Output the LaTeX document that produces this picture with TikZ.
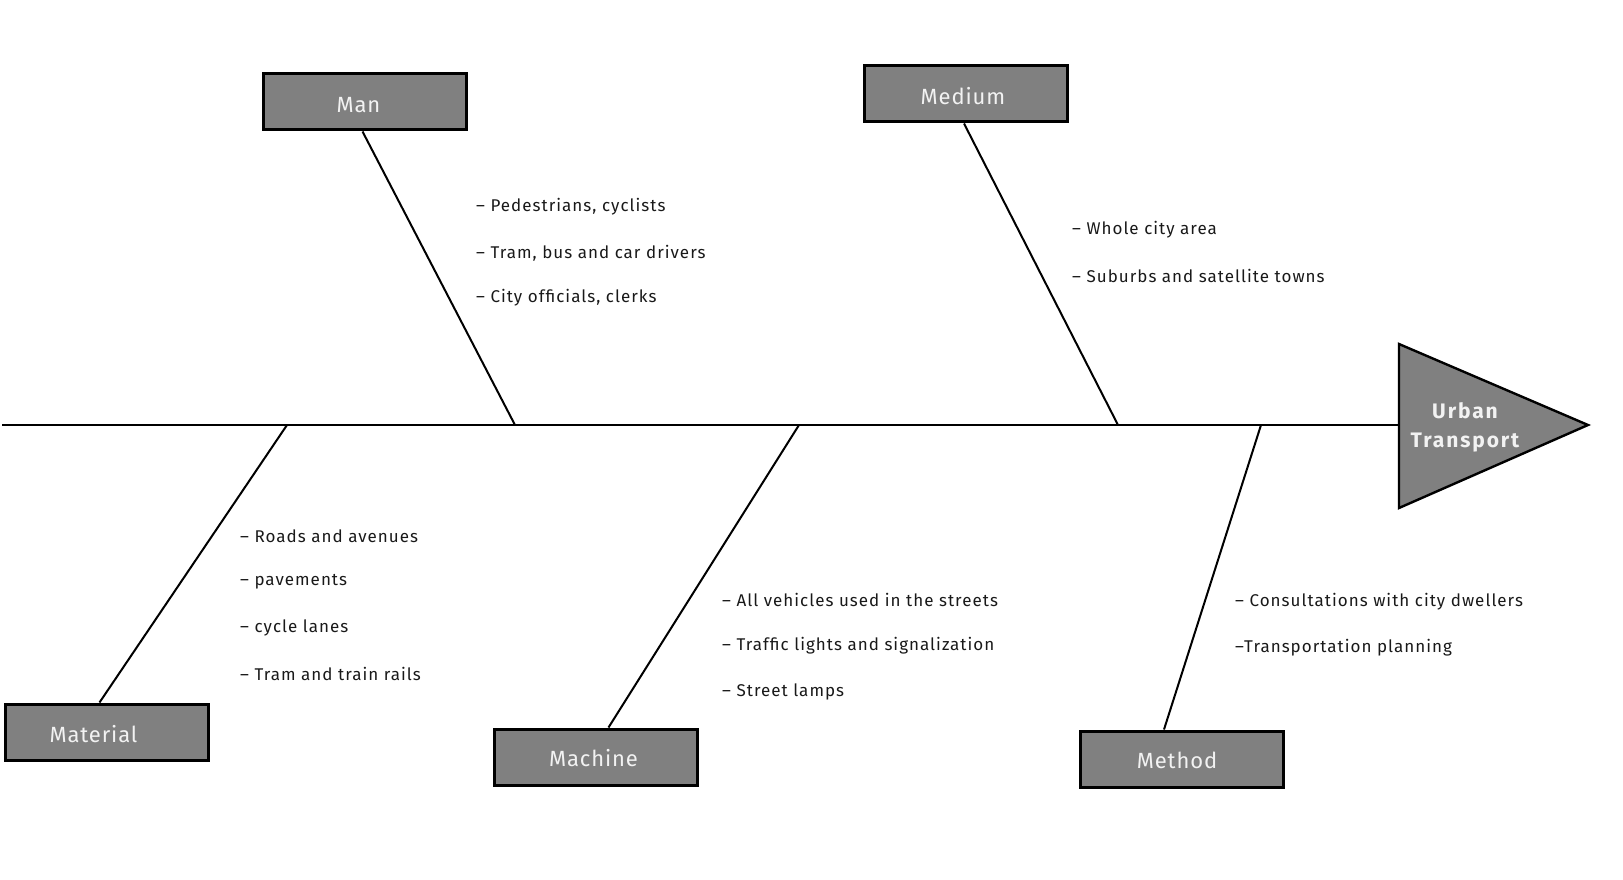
\documentclass[tikz,border=0pt]{standalone}
\usepackage{fontspec}
\setmainfont{Fira Sans}[LetterSpace=4]
\newfontfamily\itemfont{Fira Sans}[LetterSpace=6]
\newfontfamily\headfont{Fira Sans}[LetterSpace=9]
\usetikzlibrary{calc}
\definecolor{boxgray}{HTML}{808080}
\definecolor{labelwhite}{HTML}{F2F2F2}
\tikzset{
  catbox/.style={draw=black, line width=3pt, fill=boxgray, minimum width=203pt, minimum height=56pt, inner sep=0pt},
  catlabel/.style={text=labelwhite, font=\fontsize{22}{26}\selectfont, inner sep=0pt},
  bone/.style={line width=2pt, black},
  item/.style={anchor=west, inner sep=0pt, font=\itemfont\fontsize{17}{20}\selectfont, text=black!90}
}
\begin{document}
\begin{tikzpicture}[x=1pt, y=-1pt]
\useasboundingbox (0,0) rectangle (1623,880);
% head
\coordinate (tl) at (1399,344);
\coordinate (tb) at (1399,508);
\coordinate (tip) at (1588,425);
\draw[line width=2.4pt, fill=boxgray, line join=miter] (tl) -- (tip) -- (tb) -- cycle;
\node[font=\headfont\bfseries\fontsize{21}{29}\selectfont, text=labelwhite, align=center] (head) at (1465,427) {Urban\\Transport};
% spine
\coordinate (s0) at (2,425);
\coordinate (s1) at (1399,425);
\draw[bone] (s0) -- (s1);
% boxes
\node[catbox] (man) at (364.5,102) {};
\node[catbox] (medium) at (966,94) {};
\node[catbox] (material) at (106.5,732) {};
\node[catbox] (machine) at (595.5,757) {};
\node[catbox] (method) at (1182,759) {};
\node[catlabel] (manl) at ($(man)+(-6,3)$) {Man};
\node[catlabel] (mediuml) at ($(medium)+(-3,2)$) {Medium};
\node[catlabel] (materiall) at ($(material)+(-13,2)$) {Material};
\node[catlabel] (machinel) at ($(machine)+(-2,1)$) {Machine};
\node[catlabel] (methodl) at ($(method)+(-5,1)$) {Method};
% spine joints
\coordinate (jman) at (515,425);
\coordinate (jmed) at (1118,425);
\coordinate (jmat) at (287,425);
\coordinate (jmach) at (799,425);
\coordinate (jmeth) at (1261,425);
\draw[bone] ($(man.south)+(-2,0)$) -- (jman);
\draw[bone] ($(medium.south)+(-2,0)$) -- (jmed);
\draw[bone] ($(material.north)+(-7,0)$) -- (jmat);
\draw[bone] ($(machine.north)+(13,0)$) -- (jmach);
\draw[bone] ($(method.north)+(-18,0)$) -- (jmeth);
% items
\node[item] (m1) at (476,207) {– Pedestrians, cyclists};
\node[item] (m2) at (476,253) {– Tram, bus and car drivers};
\node[item] (m3) at (476,298) {– City officials, clerks};
\node[item] (d1) at (1072,230) {– Whole city area};
\node[item] (d2) at (1072,276) {– Suburbs and satellite towns};
\node[item] (t1) at (240,536) {– Roads and avenues};
\node[item] (t2) at (240,582) {– pavements};
\node[item] (t3) at (240,628) {– cycle lanes};
\node[item] (t4) at (240,674) {– Tram and train rails};
\node[item] (c1) at (722,600) {– All vehicles used in the streets};
\node[item] (c2) at (722,646) {– Traffic lights and signalization};
\node[item] (c3) at (722,692) {– Street lamps};
\node[item] (h1) at (1235,602) {– Consultations with city dwellers};
\node[item] (h2) at (1235,648) {–Transportation planning};
\end{tikzpicture}
\end{document}
